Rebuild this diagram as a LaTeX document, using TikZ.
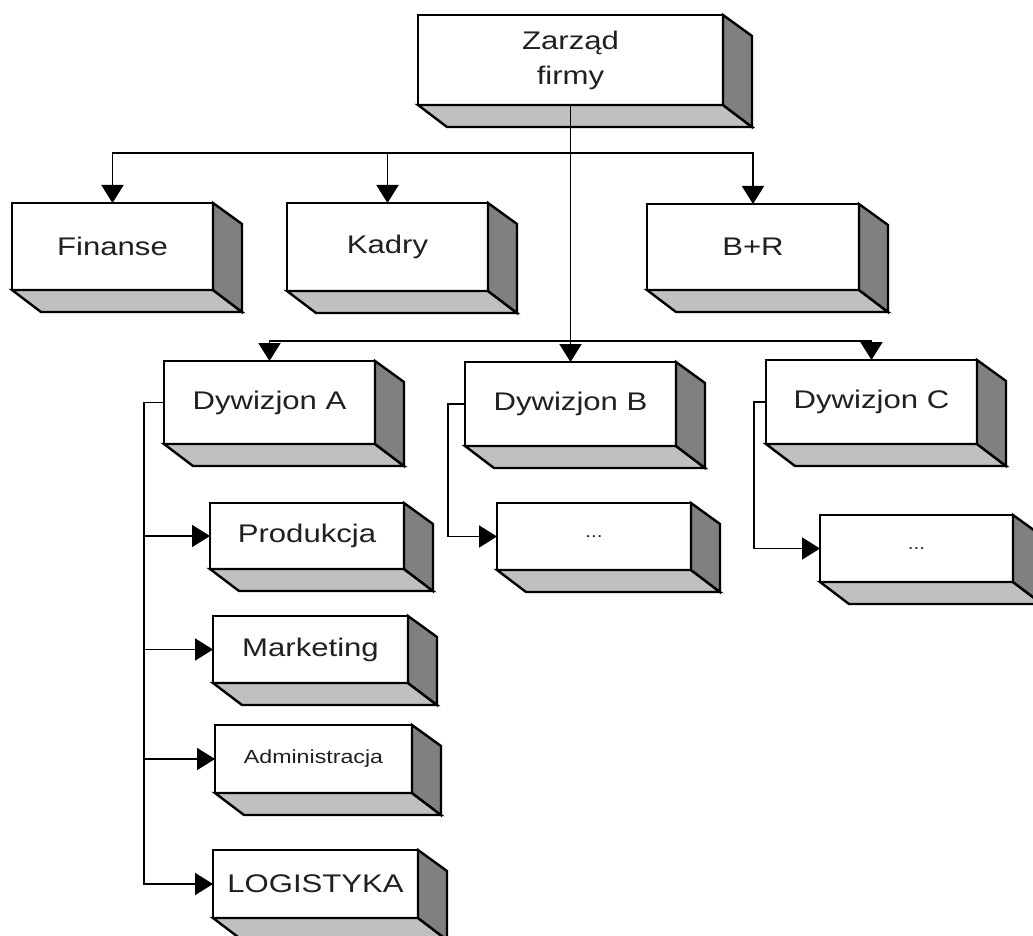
\documentclass[tikz,border=0pt]{standalone}
\usepackage{fontspec}
\setmainfont[FakeStretch=1.22]{Liberation Sans}
\usetikzlibrary{arrows.meta,calc}
\definecolor{sidegray}{HTML}{808080}
\definecolor{bottomgray}{HTML}{C0C0C0}
\definecolor{txt}{HTML}{202020}
\begin{document}
\begin{tikzpicture}[x=1pt,y=-1pt,
  box/.style={draw, fill=white, line width=2.4pt, inner sep=0pt, outer sep=0pt,
    align=center, text=txt, font=\fontsize{25.5}{35}\selectfont},
  face/.style={draw, line width=2.4pt, line join=miter},
  conn/.style={line width=1.9pt, draw=black},
  arr/.style={conn, -{Triangle[length=18pt,width=22pt]}}
]
\useasboundingbox (0,0) rectangle (1033,936);

% boxes (front faces)
\node[box, minimum width=305pt, minimum height=90pt] (zarzad) at (570.5,60) {Zarząd\\firmy};
\node[box, minimum width=201pt, minimum height=87pt] (finanse) at (112.5,246.5) {Finanse};
\node[box, minimum width=201pt, minimum height=88pt] (kadry) at (387.5,247) {Kadry};
\node[box, minimum width=212pt, minimum height=86pt] (bplusr) at (753,247) {B+R};
\node[box, minimum width=211pt, minimum height=83pt] (dywA) at (269.5,402.5) {Dywizjon A};
\node[box, minimum width=211pt, minimum height=84pt] (dywB) at (570.5,404) {Dywizjon B};
\node[box, minimum width=211pt, minimum height=84pt] (dywC) at (871.5,402) {Dywizjon C};
\node[box, minimum width=194pt, minimum height=67pt, font=\fontsize{17}{20}\selectfont] (dotsB) at (594,536.5) {...};
\node[box, minimum width=193pt, minimum height=67pt, font=\fontsize{17}{20}\selectfont] (dotsC) at (916.5,548.5) {...};
\node[box, minimum width=194pt, minimum height=66pt] (produkcja) at (307,536) {Produkcja};
\node[box, minimum width=195pt, minimum height=67pt] (marketing) at (310.5,649.5) {Marketing};
\node[box, minimum width=197pt, minimum height=68pt, font=\fontsize{19}{22}\selectfont] (administracja) at (313.5,759) {Administracja};
\node[box, minimum width=205pt, minimum height=68pt] (logistyka) at (315.5,884) {LOGISTYKA};

% 3D faces
\foreach \n in {zarzad,finanse,kadry,bplusr,dywA,dywB,dywC,dotsB,dotsC,produkcja,marketing,administracja,logistyka}{
  \path[face, fill=bottomgray] (\n.south west) -- ++(29,22) -- ($(\n.south east)+(29,22)$) -- (\n.south east) -- cycle;
  \path[face, fill=sidegray] (\n.north east) -- ++(29,21) -- ($(\n.south east)+(29,22)$) -- (\n.south east) -- cycle;
}

% connectors
\coordinate (j1) at (570.5,153);
\coordinate (j2) at (570.5,341);
\draw[arr] (zarzad.south) -- (dywB.north);
\draw[arr] (j1) -| (finanse.north);
\draw[arr] (j1) -| (kadry.north);
\draw[arr] (j1) -| (bplusr.north);
\draw[arr] (j2) -| (dywA.north);
\draw[arr] (j2) -| (dywC.north);

\coordinate (bA) at (144,402.5);
\draw[arr] (dywA.west) -- (bA) |- (logistyka.west);
\draw[arr] (bA |- produkcja.west) -- (produkcja.west);
\draw[arr] (bA |- marketing.west) -- (marketing.west);
\draw[arr] (bA |- administracja.west) -- (administracja.west);

\coordinate (bB) at (448,404);
\draw[arr] (dywB.west) -- (bB) |- (dotsB.west);
\coordinate (bC) at (754,402);
\draw[arr] (dywC.west) -- (bC) |- (dotsC.west);
\end{tikzpicture}
\end{document}
